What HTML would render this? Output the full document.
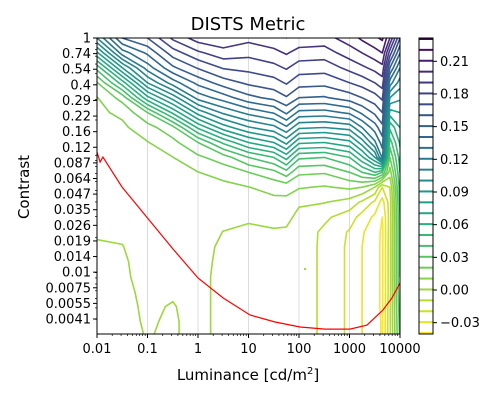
<!DOCTYPE html>
<html><head><meta charset="utf-8"><style>
body{margin:0;background:#fff;}
svg{display:block;font-family:"DejaVu Sans","Liberation Sans",sans-serif;}
</style></head><body>
<svg id="chart" width="500" height="400" viewBox="0 0 500 400" xmlns="http://www.w3.org/2000/svg">
<defs><clipPath id="plotclip"><rect x="97" y="38" width="303" height="296"/></clipPath></defs>
<text x="248" y="30" font-size="18" text-anchor="middle">DISTS Metric</text>
<rect x="97" y="38" width="303" height="296" fill="#fff"/>
<g id="grid"></g>
<g id="contours" clip-path="url(#plotclip)"></g>
<g id="curve" clip-path="url(#plotclip)"></g>
<rect x="97" y="38" width="303" height="296" fill="none" stroke="#000" stroke-width="1"/>
<g id="xaxis"></g>
<g id="yaxis"></g>
<text x="248" y="380" font-size="15" text-anchor="middle">Luminance [cd/m<tspan font-size="10" dy="-6">2</tspan><tspan dy="6">]</tspan></text>
<text x="0" y="0" font-size="15" text-anchor="middle" transform="translate(29,187) rotate(-90)">Contrast</text>
<g id="cbar"></g>
</svg>
<script>
// ---- data ----
const lumCols = [-2,-1.5,-1,-0.5,0,0.5,1,1.5,1.75,2,2.5,3,3.25,3.5,3.65,3.8,4]; // log10 luminance
const contrastRows = [0,-0.127,-0.254,-0.382,-0.509,-0.636,-0.763,-0.891,-1.018,-1.145,-1.272,-1.4,-1.527,-1.654,-1.781,-1.908,-2.036,-2.163,-2.29,-2.417,-2.545]; // log10 contrast
const fieldA = [0.110,0.078,0.044,0.019,0.0095,0.008,0.007,0.006,0.005,0.005,0.004,0.003,0.002,0.001,-0.001,-0.002,-0.002,-0.003,-0.003,-0.003,-0.003];
const fieldB = [0.150,0.125,0.090,0.055,0.024,0.012,0.008,0.007,0.006,0.006,0.005,0.004,0.003,0.001,-0.0002,-0.001,-0.001,-0.0015,-0.002,-0.002,-0.002];
const fieldC = [0.160,0.142,0.125,0.100,0.067,0.030,0.016,0.0095,0.007,0.006,0.006,0.005,0.005,0.004,0.003,0.003,0.002,0.0015,0.0012,0.0008,0.0003];
const fieldD = [0.182,0.165,0.148,0.125,0.094,0.062,0.027,0.017,0.0098,0.007,0.006,0.005,0.004,0.004,0.003,0.003,0.002,0.001,-0.0005,-0.001,-0.001];
const fieldE = [0.195,0.178,0.161,0.143,0.124,0.094,0.062,0.030,0.018,0.0098,0.008,0.007,0.006,0.005,0.004,0.004,0.003,0.003,0.003,0.003,0.003];
const fieldF = [0.198,0.186,0.171,0.155,0.135,0.112,0.085,0.052,0.025,0.014,0.007,0.005,0.003,-0.0002,-0.002,-0.003,-0.003,-0.003,-0.003,-0.003,-0.003];
const fieldG = [0.193,0.183,0.173,0.162,0.147,0.123,0.099,0.070,0.040,0.020,0.0098,0.006,0.0015,-0.002,-0.003,-0.004,-0.004,-0.004,-0.004,-0.004,-0.004];
const fieldH = [0.197,0.187,0.177,0.166,0.153,0.131,0.107,0.080,0.050,0.027,0.013,0.0075,0.003,-0.001,-0.003,-0.004,-0.004,-0.004,-0.004,-0.004,-0.004];
const fieldI = [0.200,0.191,0.181,0.171,0.159,0.142,0.118,0.093,0.064,0.036,0.014,0.007,0.002,-0.001,-0.002,-0.003,-0.004,-0.004,-0.004,-0.004,-0.004];
const fieldJ = [0.197,0.186,0.175,0.164,0.150,0.127,0.102,0.072,0.042,0.022,0.011,0.001,-0.002,-0.004,-0.005,-0.005,-0.005,-0.005,-0.005,-0.005,-0.005];
const fieldK = [0.196,0.185,0.174,0.163,0.149,0.126,0.100,0.070,0.040,0.021,0.009,0.0005,-0.008,-0.012,-0.012,-0.012,-0.012,-0.012,-0.012,-0.012,-0.012];
const fieldL = [0.205,0.195,0.183,0.170,0.155,0.132,0.104,0.077,0.050,0.030,0.012,-0.004,-0.015,-0.021,-0.022,-0.022,-0.022,-0.022,-0.022,-0.022,-0.022];
const fieldM = [0.212,0.200,0.188,0.174,0.160,0.142,0.120,0.095,0.068,0.040,0.010,-0.012,-0.024,-0.029,-0.030,-0.030,-0.030,-0.030,-0.030,-0.030,-0.030];
const fieldN = [0.218,0.206,0.193,0.180,0.166,0.152,0.135,0.118,0.090,0.050,0.000,-0.022,-0.032,-0.035,-0.036,-0.036,-0.036,-0.036,-0.036,-0.036,-0.036];
const fieldO = [0.222,0.210,0.197,0.185,0.172,0.160,0.147,0.135,0.122,0.040,-0.020,-0.034,-0.040,-0.042,-0.042,-0.042,-0.042,-0.042,-0.042,-0.041,-0.041];
const fieldP = [0.200,0.175,0.150,0.125,0.100,0.075,0.052,0.035,0.020,0.005,-0.010,-0.015,-0.015,-0.014,-0.013,-0.013,-0.013,-0.013,-0.012,-0.012,-0.012];
const fieldQ = [0.160,0.140,0.120,0.105,0.092,0.080,0.070,0.062,0.055,0.050,0.045,0.042,0.040,0.040,0.040,0.040,0.040,0.038,0.036,0.034,0.032];
const levels = [-0.04,-0.03,-0.02,-0.01,0.0,0.01,0.02,0.03,0.04,0.05,0.06,0.07,0.08,0.09,0.10,0.11,0.12,0.13,0.14,0.15,0.16,0.17,0.18,0.19,0.20,0.21,0.22,0.23];
const curveLum = [0.01,0.0115,0.0131,0.0313,0.1,0.32,1,3.16,10.7,33.5,105,327,1023,2220,4600,6920,10000];
const curveContrast = [0.1067,0.0875,0.0966,0.0537,0.0292,0.0159,0.0090,0.00607,0.00435,0.00379,0.00344,0.0033,0.0033,0.00357,0.0048,0.00607,0.00815];
const xTickLabels = ["0.01","0.1","1","10","100","1000","10000"];
const yTickLabels = ["1","0.74","0.54","0.4","0.29","0.22","0.16","0.12","0.087","0.064","0.047","0.035","0.026","0.019","0.014","0.01","0.0075","0.0055","0.0041"];
const cbarTicks = [0.21,0.18,0.15,0.12,0.09,0.06,0.03,0.00,-0.03];
const vmin = -0.0404, vmax = 0.2314;
const isolatedDot = [2.12, -1.97];

// ---- scales ----
const X0=97,X1=400,Y0=38,Y1=334;
const xs = l => X0 + (l+2)*(X1-X0)/6;
const ys = c => Y0 - c*117.3;
const NS="http://www.w3.org/2000/svg";
function mk(tag, attrs, parent){const e=document.createElementNS(NS,tag);for(const k in attrs)e.setAttribute(k,attrs[k]);parent.appendChild(e);return e;}
const stops=["#440154","#482475","#414487","#355f8d","#2a788e","#21918c","#22a884","#44bf70","#7ad151","#bddf26","#fde725"];
function hx(s){return [1,3,5].map(i=>parseInt(s.substr(i,2),16));}
function viridis(t){t=Math.max(0,Math.min(1,t));const p=t*10,i=Math.min(9,Math.floor(p)),f=p-i;const a=hx(stops[i]),b=hx(stops[i+1]);return "rgb("+a.map((v,k)=>Math.round(v+(b[k]-v)*f)).join(",")+")";}
const colorOf = v => viridis((vmax-v)/(vmax-vmin));

// grid
const gG=document.getElementById('grid');
for(let d=-1; d<=3; d++){
  const g=mk('line',{x1:xs(d),x2:xs(d),y1:Y0,y2:Y1,stroke:'#dcdcdc','stroke-width':1},gG);
  
  
}

// contours (marching squares)
const field=[fieldA,fieldB,fieldC,fieldD,fieldE,fieldF,fieldG,fieldH,fieldI,fieldJ,fieldK,fieldL,fieldM,fieldN,fieldO,fieldP,fieldQ];
const gC=document.getElementById('contours');
levels.forEach(lv=>{
  let d="";
  for(let i=0;i<lumCols.length-1;i++){
    for(let j=0;j<contrastRows.length-1;j++){
      const c=[[i,j],[i+1,j],[i+1,j+1],[i,j+1]];
      const pts=[];
      for(let e=0;e<4;e++){
        const [ai,aj]=c[e],[bi,bj]=c[(e+1)%4];
        const va=field[ai][aj],vb=field[bi][bj];
        if((va<lv)!==(vb<lv)){
          const t=(lv-va)/(vb-va);
          const L=lumCols[ai]+(lumCols[bi]-lumCols[ai])*t;
          const C=contrastRows[aj]+(contrastRows[bj]-contrastRows[aj])*t;
          pts.push([xs(L),ys(C)]);
        }
      }
      for(let k=0;k+1<pts.length;k+=2){
        d+="M"+pts[k][0].toFixed(1)+" "+pts[k][1].toFixed(1)+"L"+pts[k+1][0].toFixed(1)+" "+pts[k+1][1].toFixed(1);
      }
    }
  }
  if(d){
    const p=mk('path',{d:d,fill:'none',stroke:colorOf(lv),'stroke-width':1.6,'stroke-linecap':'round'},gC);
    
    
  }
});
const dot=mk('circle',{cx:xs(isolatedDot[0]),cy:ys(isolatedDot[1]),r:1.2,fill:colorOf(0)},gC);



// red curve
const gR=document.getElementById('curve');
const cp=curveLum.map((l,k)=>xs(Math.log10(l)).toFixed(1)+","+ys(Math.log10(curveContrast[k])).toFixed(1)).join(" ");
const rc=mk('polyline',{points:cp,fill:'none',stroke:'#ff0000','stroke-width':1.2},gR);



// x axis
const gX=document.getElementById('xaxis');
xTickLabels.forEach((lab,k)=>{
  const x=xs(Math.log10(parseFloat(lab)));
  mk('line',{x1:x,x2:x,y1:Y1,y2:Y1+4,stroke:'#000'},gX);
  const t=mk('text',{x:x,y:Y1+19,'font-size':13,'text-anchor':'middle'},gX);
  t.textContent=lab;
  
  
  if(k<xTickLabels.length-1){
    for(let m=2;m<10;m++){const xm=xs(Math.log10(parseFloat(lab)*m));mk('line',{x1:xm,x2:xm,y1:Y1,y2:Y1+2,stroke:'#000','stroke-width':0.7},gX);}
  }
});
// y axis
const gY=document.getElementById('yaxis');
yTickLabels.forEach((lab,k)=>{
  const y=Y0+k*(281/18);
  mk('line',{x1:X0-4,x2:X0,y1:y,y2:y,stroke:'#000'},gY);
  const t=mk('text',{x:X0-6,y:y+4.5,'font-size':13,'text-anchor':'end'},gY);
  t.textContent=lab;
  
  
});
for(let e=-3;e<=0;e++){for(let m=1;m<10;m++){const v=Math.log10(m)+e;if(v>0||v<-2.52)continue;const y=ys(v);mk('line',{x1:X0-2,x2:X0,y1:y,y2:y,stroke:'#000','stroke-width':0.7},gY);}}

// colorbar
const gB=document.getElementById('cbar');
const CB0=419,CB1=433;
const cbs=v=>Y0+(vmax-v)*(Y1-Y0)/(vmax-vmin);
levels.forEach(lv=>{
  const y=Math.min(Y1-1,Math.max(Y0+1,cbs(lv+0.0005)));
  const l=mk('line',{x1:CB0,x2:CB1,y1:y,y2:y,stroke:colorOf(lv),'stroke-width':2},gB);
  
  
});
mk('rect',{x:CB0,y:Y0,width:CB1-CB0,height:Y1-Y0,fill:'none',stroke:'#000'},gB);
cbarTicks.forEach(v=>{
  const y=cbs(v);
  mk('line',{x1:CB1,x2:CB1+4,y1:y,y2:y,stroke:'#000'},gB);
  const t=mk('text',{x:CB1+7,y:y+4.5,'font-size':13},gB);
  t.textContent=(v<0?"\u2212":"")+Math.abs(v).toFixed(2);
  
  
});
</script>
</body></html>
